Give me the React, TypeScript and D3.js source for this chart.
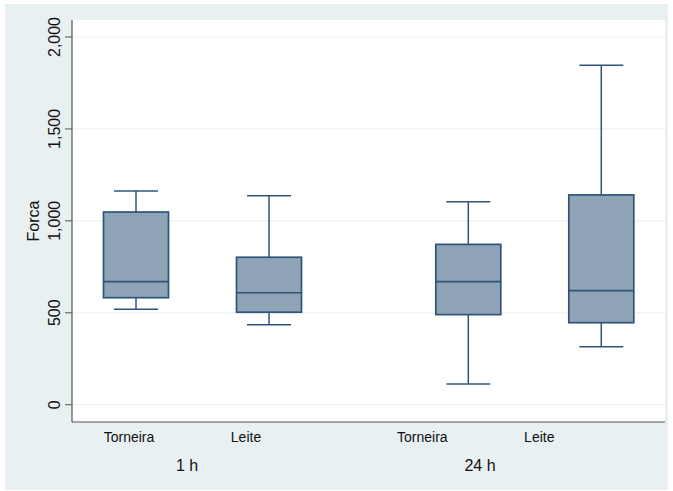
import React from "react";
import * as d3 from "d3";

const groups = ["1 h", "24 h"];
const categories = ["Torneira", "Leite", "Torneira", "Leite"];
const groupOf = [0, 0, 1, 1];
const whiskerLow = [519, 435, 113, 315];
const q1 = [582, 503, 490, 446];
const median = [669, 609, 669, 620];
const q3 = [1048, 802, 872, 1141];
const whiskerHigh = [1162, 1137, 1104, 1846];
const yTicks = [0, 500, 1000, 1500, 2000];

const W = 673;
const H = 491;
const plot = { left: 72, right: 665, top: 20, bottom: 422 };

export default function App() {
  const y = d3.scaleLinear().domain([0, 2000]).range([404.7, 37]);
  const xBox = d3.scalePoint<number>().domain([0, 1]).range([136, 269]);
  const boxCenter = (i: number) => xBox(i % 2)! + (groupOf[i] === 1 ? 332.3 : 0);
  const labelCenter = (i: number) => boxCenter(i) - (i % 2 === 0 ? 7 : 23) - (groupOf[i] === 1 ? 39 : 0);
  const boxW = 65;
  const capW = 44;
  const fill = "#8fa3b7";
  const stroke = "#2f5478";
  const font = "Liberation Sans, Arial, Helvetica, sans-serif";
  return (
    <svg width={W} height={H} style={{ position: "absolute", left: 0, top: 0 }}>
      <rect x={0} y={0} width={W} height={H} fill="#ffffff" />
      <rect x={5} y={4} width={663} height={486} fill="#e8f0f2" />
      <rect x={plot.left} y={plot.top} width={plot.right - plot.left} height={plot.bottom - plot.top} fill="#ffffff" />
      {yTicks.map((t) => (
        <g key={t}>
          <line x1={plot.left + 1} x2={plot.right} y1={y(t)} y2={y(t)} stroke="#eaf2f3" strokeWidth={1.2} />
          <line x1={65} x2={plot.left} y1={y(t)} y2={y(t)} stroke="#555" strokeWidth={1} />
          <text
            x={0}
            y={0}
            transform={`translate(60,${y(t)}) rotate(-90)`}
            textAnchor="middle"
            fontFamily={font}
            fontSize={16}
            fill="#111"
          >
            {d3.format(",")(t)}
          </text>
        </g>
      ))}
      <text
        transform={`translate(39,221) rotate(-90)`}
        textAnchor="middle"
        fontFamily={font}
        fontSize={16}
        fill="#111"
      >
        Forca
      </text>
      <line x1={plot.left} x2={plot.left} y1={plot.top} y2={plot.bottom} stroke="#555" strokeWidth={1.2} />
      <line x1={plot.left} x2={plot.right} y1={plot.bottom} y2={plot.bottom} stroke="#555" strokeWidth={1.2} />
      {categories.map((c, i) => {
        const cx = boxCenter(i);
        return (
          <g key={i}>
            <line x1={cx} x2={cx} y1={y(whiskerHigh[i])} y2={y(q3[i])} stroke={stroke} strokeWidth={1.5} />
            <line x1={cx} x2={cx} y1={y(q1[i])} y2={y(whiskerLow[i])} stroke={stroke} strokeWidth={1.5} />
            <line x1={cx - capW / 2} x2={cx + capW / 2} y1={y(whiskerHigh[i])} y2={y(whiskerHigh[i])} stroke={stroke} strokeWidth={1.5} />
            <line x1={cx - capW / 2} x2={cx + capW / 2} y1={y(whiskerLow[i])} y2={y(whiskerLow[i])} stroke={stroke} strokeWidth={1.5} />
            <rect
              x={cx - boxW / 2}
              y={y(q3[i])}
              width={boxW}
              height={y(q1[i]) - y(q3[i])}
              fill={fill}
              stroke={stroke}
              strokeWidth={1.7}
            />
            <line x1={cx - boxW / 2} x2={cx + boxW / 2} y1={y(median[i])} y2={y(median[i])} stroke={stroke} strokeWidth={1.7} />
            <text x={labelCenter(i)} y={442} textAnchor="middle" fontFamily={font} fontSize={14} fill="#111">
              {c}
            </text>
          </g>
        );
      })}
      {groups.map((g, gi) => (
        <text key={g} x={gi === 0 ? 187 : 480} y={471} textAnchor="middle" fontFamily={font} fontSize={16} fill="#111">
          {g}
        </text>
      ))}
    </svg>
  );
}
